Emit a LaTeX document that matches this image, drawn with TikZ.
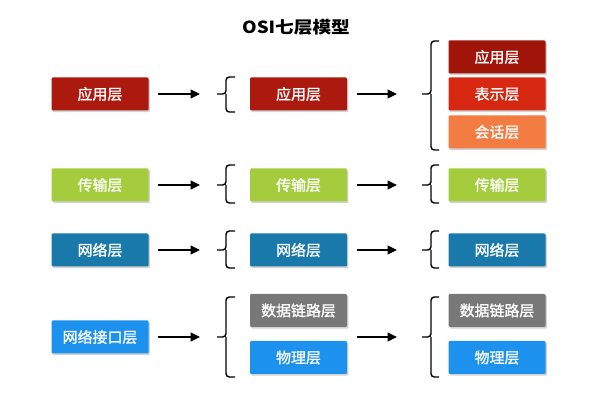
\documentclass[tikz,border=0pt]{standalone}
\usepackage{fontspec}
\setmainfont{Noto Sans CJK SC}
\newfontfamily\titlefont{Noto Sans CJK SC}[FakeStretch=1.12]
\newfontfamily\boxfont{Noto Sans CJK SC}[FakeBold=1.2]
\usetikzlibrary{arrows.meta,shadows}

\tikzset{
  osibox/.style={rounded corners=0.8pt, minimum width=72.75pt, minimum height=24.75pt, inner sep=0pt, text=white, font=\boxfont\fontsize{11.2}{13}\selectfont, drop shadow={shadow xshift=1pt, shadow yshift=-1.3pt, opacity=0.35}},
  flow/.style={line width=1.5pt, -{Triangle[length=7pt,width=6.5pt]}},
  curly/.style={line width=1.1pt, rounded corners=2.5pt},
}

\begin{document}
\begin{tikzpicture}[x=0.75pt,y=0.75pt,yscale=-1,xscale=1]
\fill[white] (0,0) rectangle (600,413);
\useasboundingbox (0,0) rectangle (600,413);

% Text Node
\node[font=\titlefont\bfseries\fontsize{12.5}{14}\selectfont] (title) at (296,27) {OSI七层模型};

%Shape: Rectangle [column 1]
\node[osibox, fill={rgb,255:red,172;green,25;blue,15}] (app1) at (100,94) {应用层};
\node[osibox, fill={rgb,255:red,164;green,204;blue,60}] (trans1) at (100,185) {传输层};
\node[osibox, fill={rgb,255:red,24;green,121;blue,170}] (net1) at (100,250) {网络层};
\node[osibox, fill={rgb,255:red,28;green,146;blue,238}] (link1) at (100,337) {网络接口层};

%Shape: Rectangle [column 2]
\node[osibox, fill={rgb,255:red,172;green,25;blue,15}] (app2) at (298.5,94) {应用层};
\node[osibox, fill={rgb,255:red,164;green,204;blue,60}] (trans2) at (298.5,185) {传输层};
\node[osibox, fill={rgb,255:red,24;green,121;blue,170}] (net2) at (298.5,250) {网络层};
\node[osibox, fill={rgb,255:red,120;green,120;blue,120}] (data2) at (298.5,310.5) {数据链路层};
\node[osibox, fill={rgb,255:red,28;green,146;blue,238}] (phy2) at (298.5,357.5) {物理层};

%Shape: Rectangle [column 3]
\node[osibox, fill={rgb,255:red,160;green,20;blue,10}] (app3) at (497,57) {应用层};
\node[osibox, fill={rgb,255:red,214;green,40;blue,16}] (pre3) at (497,94) {表示层};
\node[osibox, fill={rgb,255:red,242;green,124;blue,66}] (ses3) at (497,132) {会话层};
\node[osibox, fill={rgb,255:red,164;green,204;blue,60}] (trans3) at (497,185) {传输层};
\node[osibox, fill={rgb,255:red,24;green,121;blue,170}] (net3) at (497,250) {网络层};
\node[osibox, fill={rgb,255:red,120;green,120;blue,120}] (data3) at (497,310.5) {数据链路层};
\node[osibox, fill={rgb,255:red,28;green,146;blue,238}] (phy3) at (497,357.5) {物理层};

% brace tips
\coordinate (tipA2) at (217,94);
\coordinate (tipA3) at (422,94);
\coordinate (tipB2) at (217,185);
\coordinate (tipB3) at (422,185);
\coordinate (tipC2) at (217,250);
\coordinate (tipC3) at (422,250);
\coordinate (tipD2) at (217,337);
\coordinate (tipD3) at (422,337);
\coordinate (outD2) at (357,337);

%Curve Lines [braces, column 2]
\draw[curly] (235,77) -- (226,77) -- (226,94) -- (tipA2) (226,94) -- (226,112) -- (235,112);
\draw[curly] (235,165) -- (226,165) -- (226,185) -- (tipB2) (226,185) -- (226,203) -- (235,203);
\draw[curly] (235,231) -- (226,231) -- (226,250) -- (tipC2) (226,250) -- (226,268) -- (235,268);
\draw[curly] (235,297) -- (226,297) -- (226,337) -- (tipD2) (226,337) -- (226,377) -- (235,377);
%Curve Lines [braces, column 3]
\draw[curly] (439,41) -- (431,41) -- (431,94) -- (tipA3) (431,94) -- (431,150) -- (439,150);
\draw[curly] (439,165) -- (431,165) -- (431,185) -- (tipB3) (431,185) -- (431,203) -- (439,203);
\draw[curly] (439,231) -- (431,231) -- (431,250) -- (tipC3) (431,250) -- (431,268) -- (439,268);
\draw[curly] (439,297) -- (431,297) -- (431,337) -- (tipD3) (431,337) -- (431,377) -- (439,377);

%Straight Lines [arrows]
\draw[flow, shorten >=12.75pt] ([xshift=6.75pt]app1.east) -- (tipA2);
\draw[flow, shorten >=12.75pt] ([xshift=6.75pt]trans1.east) -- (tipB2);
\draw[flow, shorten >=12.75pt] ([xshift=6.75pt]net1.east) -- (tipC2);
\draw[flow, shorten >=12.75pt] ([xshift=6.75pt]link1.east) -- (tipD2);
\draw[flow, shorten >=18.75pt] ([xshift=7.5pt]app2.east) -- (tipA3);
\draw[flow, shorten >=18.75pt] ([xshift=7.5pt]trans2.east) -- (tipB3);
\draw[flow, shorten >=18.75pt] ([xshift=7.5pt]net2.east) -- (tipC3);
\draw[flow, shorten >=18.75pt] (outD2) -- (tipD3);

\end{tikzpicture}
\end{document}
